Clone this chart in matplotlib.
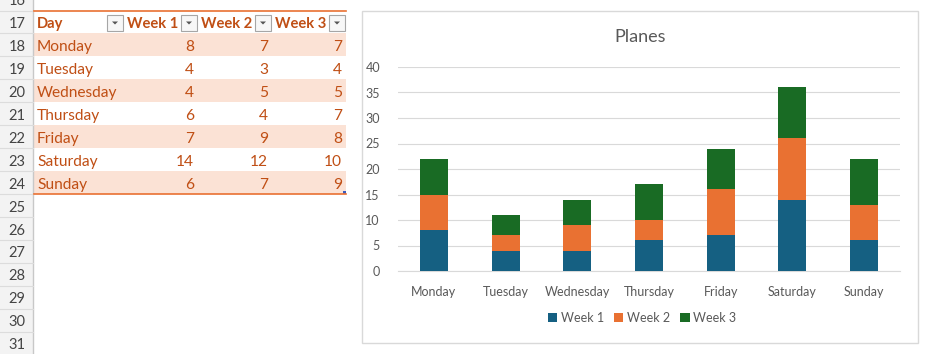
"""
Excel-style sheet: Planes table (rows 17-24) next to a stacked column chart.
"""

import matplotlib.pyplot as plt
from matplotlib.patches import Rectangle, Polygon

# ── data ──────────────────────────────────────────────────────────────────
days   = ["Monday", "Tuesday", "Wednesday", "Thursday", "Friday", "Saturday", "Sunday"]
week1  = [8, 4, 4, 6, 7, 14, 6]
week2  = [7, 3, 5, 4, 9, 12, 7]
week3  = [7, 4, 5, 7, 8, 10, 9]
series_names = ["Week 1", "Week 2", "Week 3"]
header = ["Day"] + series_names
row_numbers = list(range(16, 32))
y_ticks = [0, 5, 10, 15, 20, 25, 30, 35, 40]

# ── styles ────────────────────────────────────────────────────────────────
W, H = 932, 354
FONT = "Lato"
ORANGE_TXT = "#C04F15"
ORANGE_LINE = "#E97132"
BAND = "#FBE2D5"
SERIES_COLORS = ["#156082", "#E97132", "#196B24"]
GREY_TXT = "#595959"

ROW_H = 22.95
ROW17_TOP = 10.5
TXT_DY = 2.0          # text baseline nudge inside a row
col_edges = [34, 124, 198, 272, 346]


def row_top(r):
    return ROW17_TOP + (r - 17) * ROW_H


fig = plt.figure(figsize=(W / 100, H / 100), dpi=100)

# ── spreadsheet background (pixel coords) ─────────────────────────────────
bg = fig.add_axes([0, 0, 1, 1])
bg.set_xlim(0, W)
bg.set_ylim(H, 0)
bg.axis("off")

# row header column
bg.add_patch(Rectangle((0, 0), 33, H, facecolor="#f3f3f3", edgecolor="none"))
bg.plot([33, 33], [0, H], color="#c8c8c8", lw=1)
for r in row_numbers:
    top = row_top(r)
    bg.plot([0, 33], [top + ROW_H, top + ROW_H], color="#dcdcdc", lw=0.8)
    bg.text(17, top + ROW_H / 2 + TXT_DY, str(r), ha="center", va="center",
            fontsize=10.5, color="#444444", family=FONT)

# banded data rows
for i, day in enumerate(days):
    top = row_top(18 + i)
    if i % 2 == 0:
        bg.add_patch(Rectangle((col_edges[0], top), col_edges[-1] - col_edges[0], ROW_H,
                               facecolor=BAND, edgecolor="none"))
    yc = top + ROW_H / 2 + TXT_DY
    bg.text(col_edges[0] + 3, yc, day, ha="left", va="center",
            fontsize=11.2, color=ORANGE_TXT, family=FONT)
    for j, vals in enumerate([week1, week2, week3]):
        bg.text(col_edges[j + 2] - 4, yc, str(vals[i]), ha="right", va="center",
                fontsize=11.2, color=ORANGE_TXT, family=FONT)

# header row with filter buttons
htop = row_top(17)
bg.plot([col_edges[0], col_edges[-1]], [htop, htop], color=ORANGE_LINE, lw=1.2)
bottom_line = row_top(25)
bg.plot([col_edges[0], col_edges[-1]], [bottom_line, bottom_line], color=ORANGE_LINE, lw=1.2)
for k, name in enumerate(header):
    bg.text(col_edges[k] + 3, htop + ROW_H / 2 + TXT_DY, name, ha="left", va="center",
            fontsize=10.6, fontweight="bold", color=ORANGE_TXT, family=FONT)
    bx = col_edges[k + 1] - 17
    by = htop + 4
    bg.add_patch(Rectangle((bx, by), 16, 16, facecolor="#f7f7f7",
                           edgecolor="#a6a6a6", lw=0.8))
    bg.add_patch(Polygon([[bx + 5, by + 7], [bx + 11, by + 7], [bx + 8, by + 10]],
                         closed=True, facecolor="#555555", edgecolor="none"))
# resize handle
bg.add_patch(Rectangle((col_edges[-1] - 3, bottom_line - 3), 3, 3,
                       facecolor="#3a5bbf", edgecolor="none"))

# chart frame
bg.add_patch(Rectangle((362, 11), 556, 332, facecolor="white",
                       edgecolor="#d9d9d9", lw=1))
bg.text(640, 37, "Planes", ha="center", va="center", fontsize=13,
        color=GREY_TXT, family=FONT)

# ── chart ─────────────────────────────────────────────────────────────────
px_l, px_r, px_t, px_b = 398, 900, 67, 271
ax = fig.add_axes([px_l / W, 1 - px_b / H, (px_r - px_l) / W, (px_b - px_t) / H])
ax.set_facecolor("none")

x = range(len(days))
bottom = [0] * len(days)
for name, vals, color in zip(series_names, [week1, week2, week3], SERIES_COLORS):
    ax.bar(x, vals, width=0.39, bottom=bottom, color=color, label=name, zorder=3)
    bottom = [b + v for b, v in zip(bottom, vals)]

ax.set_xlim(-0.5, len(days) - 0.5)
ax.set_ylim(0, 40)
ax.set_yticks(y_ticks)
ax.set_xticks(list(x))
ax.set_xticklabels(days)
ax.grid(axis="y", color="#d9d9d9", lw=0.8, zorder=0)
ax.tick_params(length=0, labelsize=9, labelcolor=GREY_TXT)
ax.tick_params(axis="y", pad=13)
ax.tick_params(axis="x", pad=11)
for lab in ax.get_xticklabels() + ax.get_yticklabels():
    lab.set_family(FONT)
for side in ["top", "right", "left"]:
    ax.spines[side].set_visible(False)
ax.spines["bottom"].set_color("#d9d9d9")
ax.spines["bottom"].set_linewidth(0.8)

fig.legend(loc="center", bbox_to_anchor=(642 / W, 1 - 318 / H), ncol=3,
           frameon=False, handlelength=0.75, handleheight=0.75,
           handletextpad=0.3, columnspacing=0.8,
           prop={"family": FONT, "size": 9}, labelcolor=GREY_TXT)

fig.savefig("out.png", dpi=100)
